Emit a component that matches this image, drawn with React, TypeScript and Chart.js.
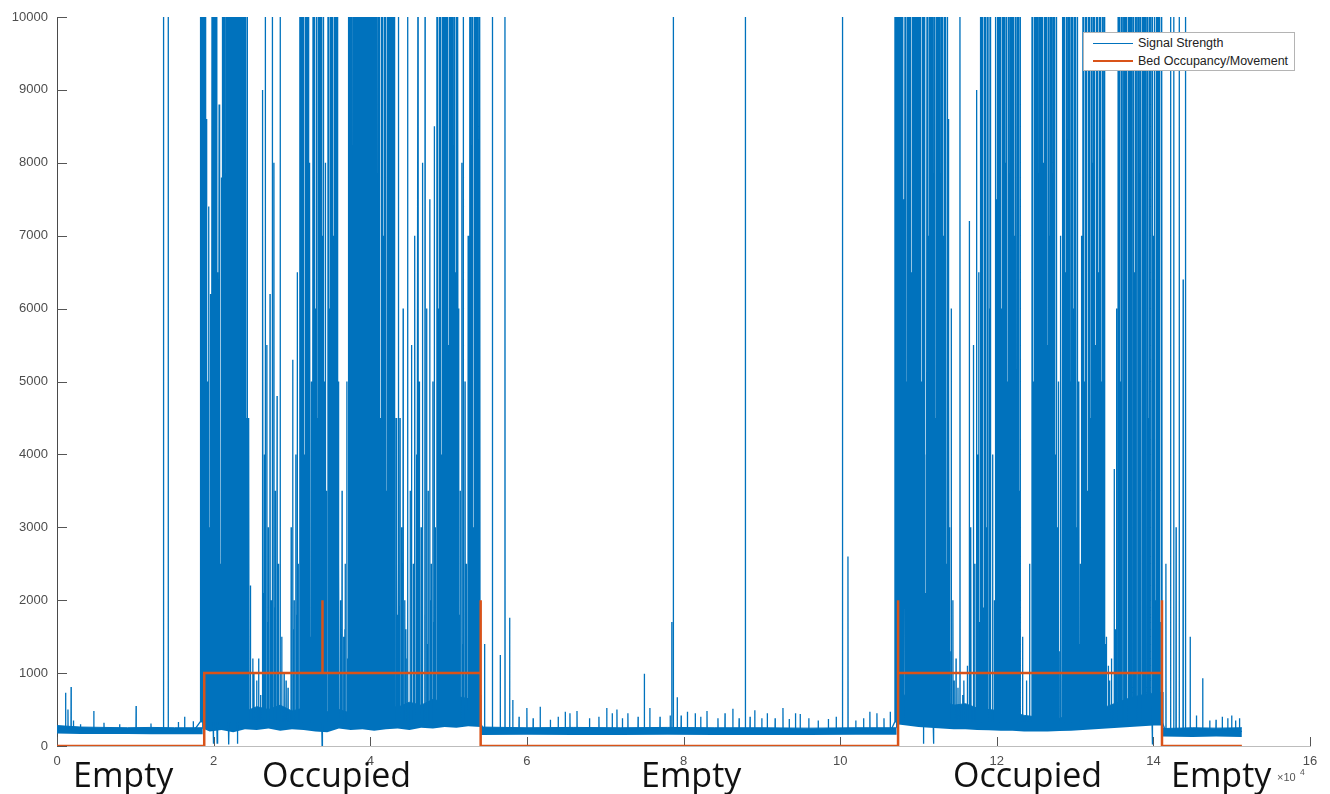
import React, { useEffect, useRef } from "react";
import { Chart, registerables } from "chart.js";

Chart.register(...registerables);

const BLUE = "#0072BD";
const ORANGE = "#D95319";

// x values are in units of 10^4 samples
const xTicks = [0, 2, 4, 6, 8, 10, 12, 14, 16];
const yTicks = [0, 1000, 2000, 3000, 4000, 5000, 6000, 7000, 8000, 9000, 10000];

// Bed occupancy / movement step trace
const occupancyX = [0, 1.88, 1.88, 3.39, 3.39, 3.39, 5.41, 5.41, 5.41, 10.74, 10.74, 10.74, 14.11, 14.11, 14.11, 15.13];
const occupancyY = [0, 0, 1000, 1000, 2000, 1000, 1000, 2000, 0, 0, 2000, 1000, 1000, 2000, 0, 0];

// Signal: dense noise band (lower / upper envelope)
const bandX = [
  0, 0.3, 0.6, 0.9, 1.2, 1.5, 1.86,
  1.86, 1.95, 2.1, 2.25, 2.4, 2.55, 2.7, 2.85, 3.0, 3.15, 3.3, 3.45, 3.6, 3.75, 3.9, 4.05, 4.2, 4.35, 4.5, 4.65, 4.8, 4.95, 5.1, 5.25, 5.41,
  5.41, 6.0, 6.6, 7.2, 7.8, 8.4, 9.0, 9.6, 10.2, 10.72,
  10.72, 10.85, 11.0, 11.15, 11.3, 11.45, 11.6, 11.75, 11.9, 12.05, 12.2, 12.35, 12.5, 12.65, 12.8, 12.95, 13.1, 13.25, 13.4, 13.55, 13.7, 13.85, 14.0, 14.12,
  14.12, 14.5, 14.8, 15.13,
];
const bandLow = [
  170, 165, 165, 165, 160, 160, 160,
  240, 200, 220, 190, 230, 220, 240, 210, 230, 220, 200, 190, 240, 220, 230, 210, 230, 240, 220, 250, 240, 260, 250, 270, 260,
  150, 155, 150, 150, 155, 150, 150, 150, 155, 155,
  300, 280, 260, 250, 240, 230, 230, 220, 215, 210, 210, 200, 200, 200, 205, 210, 220, 230, 240, 250, 260, 270, 280, 280,
  130, 125, 130, 125,
];
const bandHigh = [
  280, 260, 255, 250, 255, 250, 250,
  600, 520, 480, 560, 470, 540, 500, 560, 480, 520, 430, 470, 500, 450, 520, 480, 560, 530, 600, 560, 640, 600, 680, 650, 700,
  260, 250, 255, 250, 255, 250, 250, 245, 250, 250,
  760, 680, 640, 600, 620, 560, 580, 520, 500, 480, 460, 420, 400, 390, 380, 420, 450, 480, 540, 600, 660, 700, 720, 740,
  240, 250, 245, 250,
];

// Signal: spikes that run off the top of the axes (x positions only)
const topSpikes1 = [
  1.83, 1.84, 1.85, 1.86, 1.87, 1.88, 1.89, 1.90,
  1.98, 1.99, 2.00, 2.01, 2.02, 2.03, 2.04,
  2.11, 2.12, 2.13, 2.14, 2.16, 2.17, 2.18, 2.19, 2.20, 2.22, 2.23, 2.24, 2.25, 2.27, 2.28, 2.29, 2.30, 2.32, 2.33, 2.34, 2.36, 2.37, 2.38, 2.40, 2.41, 2.43,
  2.66, 2.75, 2.85,
  3.10, 3.11, 3.12, 3.14, 3.15, 3.17, 3.18, 3.20, 3.21,
  3.27, 3.28, 3.29, 3.31, 3.32, 3.34, 3.35, 3.37, 3.38, 3.40,
  3.46, 3.47, 3.49, 3.50, 3.52, 3.54, 3.55, 3.57, 3.58,
  3.72, 3.73, 3.74, 3.75, 3.76, 3.78, 3.79, 3.80, 3.81, 3.83, 3.84, 3.85, 3.86, 3.88, 3.89, 3.90, 3.92, 3.93, 3.94, 3.95,
  3.97, 3.98, 3.99, 4.00, 4.02, 4.03, 4.04, 4.06, 4.07, 4.08, 4.10, 4.11, 4.12, 4.14, 4.15, 4.16, 4.18, 4.19, 4.20, 4.22,
  4.23, 4.25, 4.26, 4.27, 4.29, 4.30, 4.31,
  4.36, 4.48, 4.61, 4.70,
  4.85, 4.86, 4.88, 4.89, 4.90, 4.92, 4.93, 4.95, 4.96, 4.98, 4.99, 5.01, 5.02, 5.04, 5.05, 5.07, 5.08, 5.10, 5.12,
  5.19,
  5.27, 5.28, 5.30, 5.31, 5.33, 5.34, 5.36, 5.37, 5.39, 5.40,
];
const topSpikes2 = [
  10.70, 10.71, 10.72, 10.73, 10.75, 10.76, 10.77, 10.78, 10.80,
  10.83, 10.84, 10.86, 10.87, 10.89, 10.90, 10.92, 10.93,
  10.94, 10.95, 10.96, 10.97, 10.98, 10.99, 11.00, 11.01, 11.02, 11.03, 11.05, 11.06, 11.07, 11.08,
  11.11, 11.12, 11.14, 11.15, 11.17, 11.18, 11.20, 11.21, 11.23, 11.24, 11.26, 11.27, 11.29, 11.31, 11.33, 11.35, 11.37,
  11.53,
  11.79, 11.80, 11.82, 11.84, 11.86, 11.88, 11.90, 11.92,
  11.98, 11.99, 12.01, 12.02, 12.04, 12.05, 12.07, 12.08, 12.10, 12.12, 12.13, 12.15, 12.17, 12.19, 12.20, 12.22, 12.24, 12.26, 12.28, 12.30,
  12.45, 12.46, 12.48, 12.49, 12.51, 12.52, 12.54, 12.56, 12.57, 12.59, 12.61, 12.62, 12.64, 12.66, 12.68, 12.70, 12.72, 12.74, 12.76,
  12.84, 12.85, 12.87, 12.89, 12.91, 12.93, 12.95, 12.97, 12.99, 13.01, 13.03,
  13.10, 13.11, 13.13, 13.15, 13.17, 13.19, 13.21, 13.23, 13.25, 13.27, 13.29, 13.31, 13.33, 13.35, 13.37,
  13.55, 13.56, 13.57, 13.59, 13.60, 13.62, 13.63, 13.65, 13.66, 13.68, 13.69, 13.71, 13.72, 13.74, 13.75, 13.77, 13.78, 13.80,
  13.81, 13.83, 13.84, 13.86, 13.87, 13.89, 13.90, 13.92, 13.93, 13.95, 13.96, 13.98, 13.99, 14.01, 14.02, 14.04, 14.05, 14.07,
  14.08, 14.10, 14.11,
];

// Signal: spikes with a visible peak [x, value]
const spikesEmpty1 = [
  [0.11, 730], [0.14, 500], [0.18, 810], [0.21, 350], [0.30, 300], [0.47, 480], [0.60, 320], [0.80, 300],
  [1.01, 550], [1.20, 310], [1.36, 12000], [1.42, 12000], [1.55, 330], [1.63, 400], [1.74, 340],
];
const midSpikes1 = [
  [1.91, 8600], [1.92, 5000], [1.94, 7400], [1.95, 3000], [1.96, 6200], [1.97, 4200],
  [2.05, 6500], [2.06, 3500], [2.07, 8800], [2.08, 5000], [2.09, 2500], [2.10, 7800],
  [2.15, 6000], [2.21, 4000], [2.26, 7000], [2.31, 3000], [2.35, 5500], [2.39, 8000], [2.42, 4500],
  [2.45, 4500], [2.47, 2200], [2.50, 1200], [2.55, 900], [2.60, 700], [2.62, 9000],
  [2.63, 7400], [2.65, 4000], [2.68, 5500], [2.70, 3000], [2.72, 6200], [2.74, 2000], [2.77, 8000], [2.79, 3500],
  [2.81, 4800], [2.83, 2500], [2.87, 1500], [2.90, 1000], [2.95, 800],
  [2.99, 3000], [3.01, 5300], [3.03, 2000], [3.05, 4000], [3.07, 6500], [3.08, 2500],
  [3.13, 6000], [3.16, 4000], [3.19, 7000], [3.22, 3500], [3.23, 8000], [3.25, 5000], [3.26, 2500], [3.30, 6000],
  [3.33, 4500], [3.36, 3000], [3.39, 7000], [3.41, 5000], [3.43, 8000], [3.44, 3500], [3.48, 6000], [3.51, 4000],
  [3.53, 7000], [3.56, 3000], [3.59, 5000], [3.60, 2500],
  [3.62, 2000], [3.64, 3500], [3.66, 1500], [3.68, 2500], [3.70, 5000],
  [3.77, 6000], [3.82, 5000], [3.87, 7500], [3.91, 4000], [3.96, 6500], [4.01, 3000], [4.05, 8000], [4.09, 5500],
  [4.13, 4500], [4.17, 7000], [4.21, 3500], [4.24, 6000], [4.28, 5000], [4.33, 4500], [4.34, 2500],
  [4.38, 4500], [4.40, 3000], [4.42, 6000], [4.44, 2000], [4.46, 1200], [4.51, 3500], [4.53, 5500], [4.55, 2500],
  [4.57, 7000], [4.59, 4000], [4.63, 5000], [4.65, 3000], [4.67, 8000], [4.72, 6000], [4.74, 3500], [4.76, 7500],
  [4.78, 2500], [4.80, 5000], [4.82, 8500], [4.83, 3000],
  [4.87, 6000], [4.91, 4000], [4.94, 7000], [4.97, 3000], [5.00, 5500], [5.03, 8000], [5.06, 4500], [5.09, 6500], [5.11, 3000],
  [5.13, 6000], [5.15, 3500], [5.17, 8000], [5.21, 5000], [5.23, 2500], [5.25, 7000],
  [5.29, 5000], [5.32, 3000], [5.35, 6500], [5.38, 4000],
];
// low-level bursts that thicken the bottom of occupied stretches
const lowSpikes1 = [
  [1.935, 1800], [2.055, 1500], [2.155, 2200], [2.205, 1600], [2.265, 1900], [2.355, 1400], [2.445, 1300],
  [2.515, 1000], [2.575, 1200], [2.645, 2100], [2.695, 1700], [2.735, 1500], [2.785, 1900], [2.825, 1400],
  [2.925, 900], [3.025, 1600], [3.065, 1800], [3.135, 2000], [3.215, 1700], [3.245, 1500], [3.335, 1900],
  [3.425, 1600], [3.485, 2200], [3.535, 1400], [3.595, 1800], [3.635, 1300], [3.675, 1600], [3.705, 1200],
  [3.815, 2000], [3.955, 1700], [4.095, 1900], [4.235, 1500], [4.345, 1800], [4.375, 1400], [4.415, 2100],
  [4.455, 1600], [4.475, 1300], [4.525, 2000], [4.565, 1700], [4.595, 1500], [4.625, 1900], [4.665, 1600],
  [4.695, 1800], [4.735, 1400], [4.775, 2000], [4.815, 1700], [4.945, 1500], [5.145, 1800], [5.185, 1400],
  [5.225, 2000], [5.255, 1600], [5.345, 1900],
];
const dipsOccupied1 = [[1.995, 30], [2.045, 40], [2.195, 20], [2.305, 30], [3.385, 10]];
const spikesEmpty2 = [
  [5.46, 1400], [5.56, 12000], [5.66, 1250], [5.72, 12000], [5.78, 1760], [5.82, 630], [5.90, 400], [6.00, 520],
  [6.08, 380], [6.17, 540], [6.30, 360], [6.40, 400], [6.49, 470], [6.55, 450], [6.64, 480], [6.80, 380],
  [6.92, 400], [7.02, 520], [7.09, 450], [7.15, 500], [7.22, 380], [7.29, 450], [7.42, 400], [7.50, 990],
  [7.57, 520], [7.70, 400], [7.83, 420], [7.85, 1700], [7.87, 12000], [7.92, 670], [7.97, 420], [8.05, 470],
  [8.15, 450], [8.22, 400], [8.30, 480], [8.44, 380], [8.53, 450], [8.63, 510], [8.71, 380], [8.79, 12000],
  [8.85, 400], [8.91, 490], [9.00, 380], [9.07, 450], [9.17, 380], [9.27, 520], [9.35, 370], [9.43, 450],
  [9.49, 440], [9.60, 380], [9.72, 350], [9.85, 370], [9.95, 400], [10.03, 12000], [10.10, 2600], [10.20, 350],
  [10.30, 380], [10.38, 470], [10.47, 450], [10.56, 380], [10.64, 470],
];
const midSpikes2 = [
  [10.74, 6000], [10.79, 4000], [10.81, 7500], [10.85, 5000], [10.88, 3000], [10.91, 6500],
  [11.04, 5000], [11.10, 4000], [11.13, 7000], [11.16, 3500], [11.19, 6000], [11.22, 4500], [11.25, 8000], [11.28, 3000],
  [11.30, 5500], [11.32, 7000], [11.34, 4000], [11.36, 2500],
  [11.38, 8600], [11.39, 5000], [11.40, 3000], [11.42, 6000], [11.44, 2000], [11.48, 1200], [11.58, 900],
  [11.65, 7200], [11.67, 3000], [11.70, 5500], [11.72, 2500], [11.74, 9000], [11.76, 4000], [11.77, 6500],
  [11.81, 5000], [11.85, 7000], [11.87, 3000], [11.91, 6000], [11.95, 4000], [11.97, 2000], [12.00, 7500], [12.03, 4500],
  [12.06, 6000], [12.09, 3000], [12.11, 8000], [12.14, 5000], [12.16, 3500], [12.18, 6500], [12.21, 4000], [12.23, 7000],
  [12.25, 2500], [12.27, 5500], [12.29, 3500],
  [12.33, 1500], [12.38, 900], [12.42, 2500],
  [12.47, 5000], [12.50, 7000], [12.53, 3500], [12.55, 6000], [12.58, 4000], [12.60, 8000], [12.63, 3000], [12.65, 5500],
  [12.67, 7000], [12.69, 4500], [12.71, 2500], [12.73, 6000], [12.75, 4000], [12.77, 3000],
  [12.79, 5000], [12.81, 2000], [12.82, 7000],
  [12.86, 4000], [12.88, 6500], [12.90, 3000], [12.92, 7500], [12.94, 5000], [12.96, 2500], [12.98, 6000], [13.00, 4000], [13.02, 3000],
  [13.05, 5000], [13.07, 2500], [13.08, 7000],
  [13.12, 5000], [13.14, 7000], [13.16, 3500], [13.18, 6000], [13.20, 4500], [13.22, 8000], [13.24, 3000], [13.26, 5500],
  [13.28, 4000], [13.30, 6500], [13.32, 2500], [13.34, 5000], [13.36, 3500], [13.38, 2000],
  [13.40, 1500], [13.44, 900], [13.50, 3800], [13.53, 6000],
  [13.58, 5000], [13.64, 7000], [13.70, 4000], [13.76, 6500], [13.82, 3000], [13.88, 5500], [13.94, 4500], [14.00, 7000], [14.06, 3500],
];
const lowSpikes2 = [
  [10.745, 1800], [10.815, 2000], [10.855, 1500], [10.885, 1900], [10.915, 1400], [11.045, 1700], [11.095, 2100],
  [11.135, 1500], [11.165, 1900], [11.225, 1600], [11.285, 2000], [11.345, 1500], [11.395, 1800], [11.415, 1300],
  [11.455, 900], [11.505, 800], [11.565, 700], [11.625, 1100], [11.665, 1600], [11.705, 2000], [11.745, 1500],
  [11.775, 1700], [11.835, 1900], [11.875, 1400], [11.945, 2000], [12.035, 1600], [12.095, 1800], [12.165, 1500],
  [12.235, 1900], [12.285, 1400], [12.485, 1700], [12.535, 2000], [12.595, 1500], [12.655, 1900], [12.715, 1600],
  [12.785, 1800], [12.805, 1300], [12.865, 1700], [12.925, 2000], [12.985, 1500], [13.045, 1900], [13.065, 1400],
  [13.085, 1800], [13.145, 1600], [13.205, 2000], [13.265, 1500], [13.325, 1900], [13.385, 1400], [13.425, 1100],
  [13.465, 1200], [13.515, 1600], [13.585, 2000], [13.645, 1700], [13.705, 1900], [13.765, 1500], [13.825, 2100],
  [13.885, 1800], [13.945, 1600], [14.025, 2000], [14.085, 1700],
];
const dipsOccupied2 = [[11.065, 30], [11.195, 30], [13.985, 20]];
const spikesEmpty3 = [
  [14.16, 2500], [14.22, 12000], [14.26, 12000], [14.29, 3000], [14.33, 12000], [14.38, 6400], [14.41, 12000], [14.47, 1500],
  [14.55, 420], [14.63, 930], [14.72, 350], [14.80, 360], [14.88, 400], [14.95, 380], [15.00, 420], [15.05, 350], [15.10, 380],
];

const OFF_TOP = 12000;
const occupiedRanges = [[1.83, 5.42], [10.70, 14.12]];
const signalStart = 0;
const signalEnd = 15.13;

const stateLabels = [
  { text: "Empty", left: 73 },
  { text: "Occupied", left: 262 },
  { text: "Empty", left: 641 },
  { text: "Occupied", left: 953 },
  { text: "Empty", left: 1171 },
];

function baseAt(x: number) {
  for (const [a, b] of occupiedRanges) if (x >= a && x <= b) return 330;
  return 200;
}

function buildSignal() {
  const all = [
    ...spikesEmpty1,
    ...topSpikes1.map((x) => [x, OFF_TOP]),
    ...midSpikes1,
    ...lowSpikes1,
    ...dipsOccupied1,
    ...spikesEmpty2,
    ...topSpikes2.map((x) => [x, OFF_TOP]),
    ...midSpikes2,
    ...lowSpikes2,
    ...dipsOccupied2,
    ...spikesEmpty3,
  ].sort((p, q) => p[0] - q[0]);
  const pts: { x: number; y: number }[] = [{ x: signalStart, y: baseAt(signalStart) }];
  for (const [sx, sy] of all) {
    const b = baseAt(sx);
    pts.push({ x: sx - 0.002, y: b }, { x: sx, y: sy }, { x: sx + 0.002, y: b });
  }
  pts.push({ x: signalEnd, y: baseAt(signalEnd) });
  return pts;
}

const inwardTicks = {
  id: "inwardTicks",
  beforeDatasetsDraw(chart: any) {
    const { ctx, chartArea, scales } = chart;
    ctx.save();
    ctx.lineWidth = 1;
    ctx.strokeStyle = "#555";
    ctx.beginPath();
    for (const v of xTicks) {
      const px = Math.round(scales.x.getPixelForValue(v)) + 0.5;
      ctx.moveTo(px, chartArea.bottom);
      ctx.lineTo(px, chartArea.bottom - 9);
    }
    for (const v of yTicks) {
      const py = Math.round(scales.y.getPixelForValue(v)) + 0.5;
      ctx.moveTo(chartArea.left, py);
      ctx.lineTo(chartArea.left + 10, py);
    }
    ctx.stroke();
    ctx.restore();
  },
};

export default function App() {
  const ref = useRef<HTMLCanvasElement | null>(null);

  useEffect(() => {
    if (!ref.current) return;
    const signal = buildSignal();
    const occ = occupancyX.map((x, i) => ({ x, y: occupancyY[i] }));
    const low = bandX.map((x, i) => ({ x, y: bandLow[i] }));
    const high = bandX.map((x, i) => ({ x, y: bandHigh[i] }));
    const tickFont = { family: "'Liberation Sans', Arial, sans-serif", size: 13 };

    const chart = new Chart(ref.current, {
      type: "line",
      data: {
        datasets: [
          { label: "Signal Strength", data: signal, borderColor: BLUE, borderWidth: 1.3, pointRadius: 0, fill: false, order: 2, tension: 0 },
          { label: "Bed Occupancy/Movement", data: occ, borderColor: ORANGE, borderWidth: 2.5, pointRadius: 0, fill: false, order: 0, tension: 0 },
          { label: "band-low", data: low, borderColor: "rgba(0,0,0,0)", borderWidth: 0, pointRadius: 0, fill: false, order: 3 },
          { label: "band-high", data: high, borderColor: BLUE, backgroundColor: BLUE, borderWidth: 1, pointRadius: 0, fill: "-1", order: 3 },
        ],
      } as any,
      options: {
        responsive: false,
        animation: false,
        parsing: false,
        normalized: true,
        events: [],
        layout: { padding: { top: 17, right: 20, left: 0, bottom: 0 } },
        plugins: { legend: { display: false }, tooltip: { enabled: false } },
        scales: {
          x: {
            type: "linear",
            min: 0,
            max: 16,
            afterBuildTicks: (s: any) => { s.ticks = xTicks.map((v) => ({ value: v })); },
            afterFit: (s: any) => { s.height = 48; },
            grid: { display: false, drawTicks: false },
            border: { display: true, color: "#bdbdbd", width: 1 },
            ticks: { padding: 8, font: tickFont, color: "#4d4d4d", maxRotation: 0, autoSkip: false, callback: (v: any) => String(v) },
          },
          y: {
            type: "linear",
            min: 0,
            max: 10000,
            afterBuildTicks: (s: any) => { s.ticks = yTicks.map((v) => ({ value: v })); },
            afterFit: (s: any) => { s.width = 57; },
            grid: { display: false, drawTicks: false },
            border: { display: true, color: "#4a4a4a", width: 1 },
            ticks: { padding: 9, font: tickFont, color: "#4d4d4d", autoSkip: false, callback: (v: any) => String(v) },
          },
        },
      } as any,
      plugins: [inwardTicks],
    });
    return () => chart.destroy();
  }, []);

  const legendText: React.CSSProperties = {
    position: "absolute",
    left: 54,
    fontFamily: "'Liberation Sans', Arial, sans-serif",
    fontSize: 12.5,
    lineHeight: "14px",
    color: "#222",
    whiteSpace: "nowrap",
  };

  return (
    <div style={{ position: "absolute", left: 0, top: 0, width: 1330, height: 794, overflow: "hidden", background: "#fff" }}>
      <canvas ref={ref} width={1330} height={794} style={{ display: "block", width: 1330, height: 794 }} />
      <div
        style={{
          position: "absolute", left: 1083, top: 32, width: 210, height: 37,
          border: "1px solid #b4b4b4", background: "#fff",
        }}
      >
        <div style={{ position: "absolute", left: 9, top: 10, width: 40, height: 1, background: BLUE }} />
        <div style={{ ...legendText, top: 3 }}>Signal Strength</div>
        <div style={{ position: "absolute", left: 9, top: 27, width: 40, height: 2, background: ORANGE }} />
        <div style={{ ...legendText, top: 21 }}>Bed Occupancy/Movement</div>
      </div>
      {stateLabels.map((l, i) => (
        <div
          key={i}
          style={{
            position: "absolute", left: l.left, top: 757, fontFamily: "'Open Sans', sans-serif",
            fontSize: 34, lineHeight: "34px", color: "#111", whiteSpace: "nowrap",
          }}
        >
          {l.text}
        </div>
      ))}
      <div style={{ position: "absolute", left: 1277, top: 772, fontFamily: "'Liberation Sans', Arial, sans-serif", fontSize: 11, lineHeight: "11px", color: "#555" }}>
        ×10
      </div>
      <div style={{ position: "absolute", left: 1300, top: 768, fontFamily: "'Liberation Sans', Arial, sans-serif", fontSize: 8.5, lineHeight: "8px", color: "#555" }}>
        4
      </div>
    </div>
  );
}
